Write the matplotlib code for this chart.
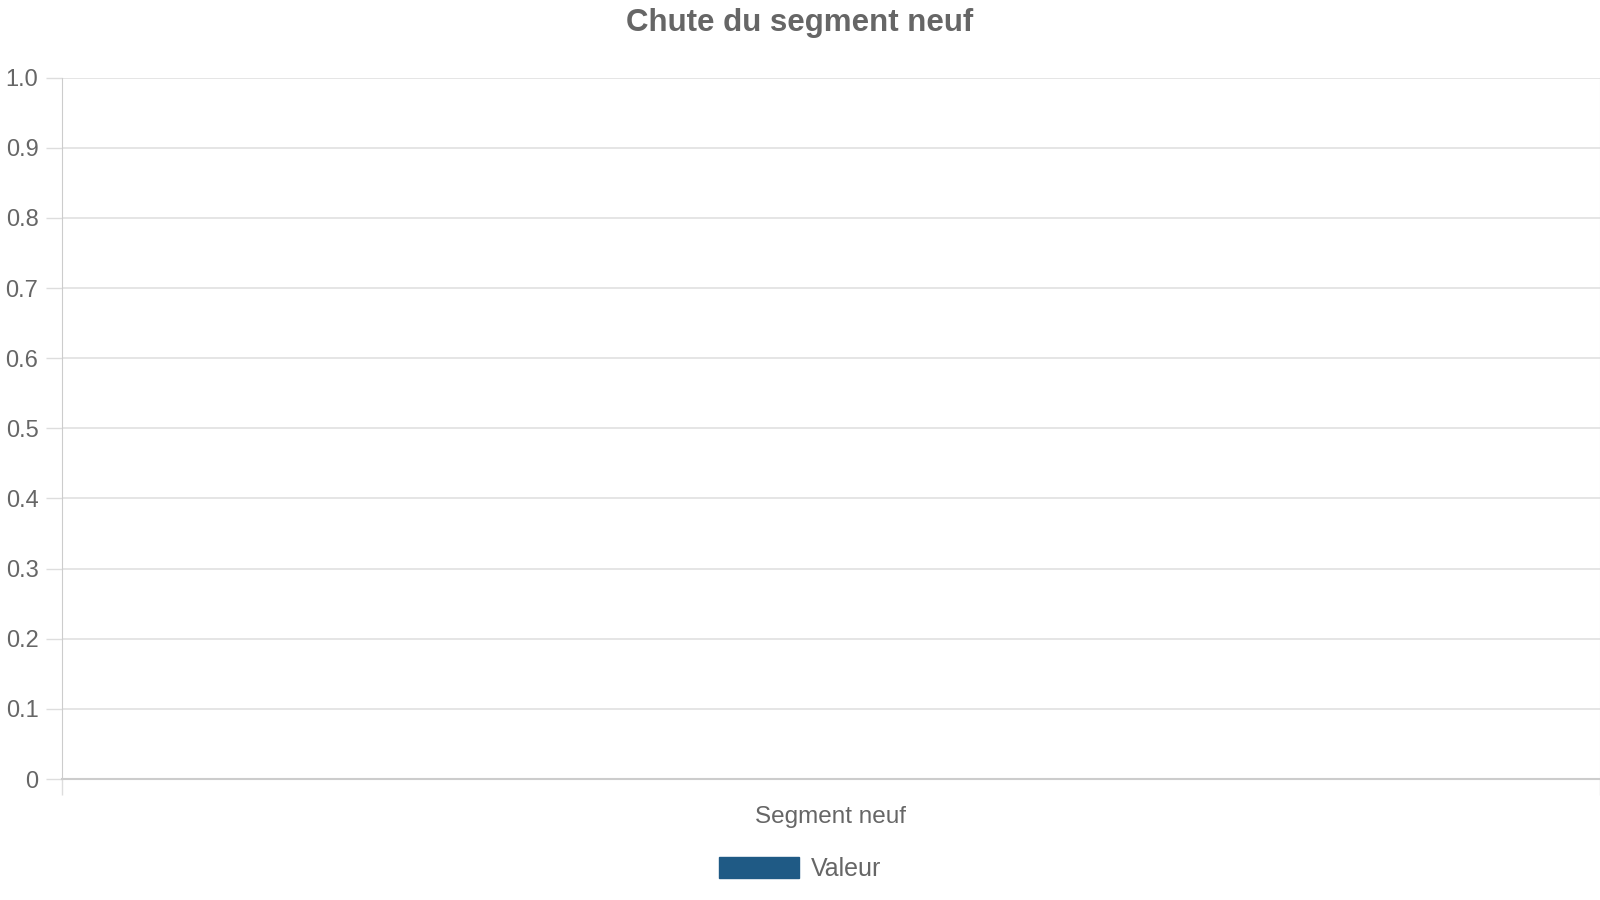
import matplotlib.pyplot as plt
from matplotlib.patches import Patch

# données
categories = ['Segment neuf']
valeurs = [0]
serie = 'Valeur'
titre = 'Chute du segment neuf'
y_ticks = [0, 0.1, 0.2, 0.3, 0.4, 0.5, 0.6, 0.7, 0.8, 0.9, 1.0]
y_labels = ['0', '0.1', '0.2', '0.3', '0.4', '0.5', '0.6', '0.7', '0.8', '0.9', '1.0']

plt.rcParams['font.family'] = ['Liberation Sans', 'DejaVu Sans']
gris = '#666666'
couleur = '#1f5a85'

fig = plt.figure(figsize=(16, 9), dpi=100)
ax = fig.add_axes([0.03875, 0.1344, 0.961, 0.7794])

x = list(range(len(categories)))
ax.bar(x, valeurs, width=0.6, color=couleur, label=serie, zorder=3)
ax.set_xlim(-0.5, len(categories) - 0.5)
ax.set_ylim(0, 1.0)

ax.set_yticks(y_ticks)
ax.set_yticklabels(y_labels)
ax.yaxis.grid(True, color='#e0e0e0', linewidth=1.2, zorder=0)
ax.tick_params(axis='y', colors='#dddddd', labelcolor=gris, labelsize=17,
               length=11.5, width=1, pad=5.5)

# graduations des catégories sur les bords
ax.set_xticks([-0.5 + i for i in range(len(categories) + 1)], minor=False)
ax.set_xticklabels([''] * (len(categories) + 1))
ax.set_xticks(x, minor=True)
ax.set_xticklabels(categories, minor=True)
ax.tick_params(axis='x', which='major', colors='#dddddd', length=11.5, width=1)
ax.tick_params(axis='x', which='minor', length=0, labelcolor=gris,
               labelsize=17.5, pad=19.5)

ax.spines['top'].set_visible(False)
ax.spines['right'].set_color('#e0e0e0')
ax.spines['left'].set_color('#cccccc')
ax.spines['bottom'].set_color('#cccccc')
ax.spines['bottom'].set_linewidth(1.5)
ax.spines['bottom'].set_zorder(4)

fig.text(0.5, 1 - 31 / 900, titre, ha='center', va='baseline',
         fontsize=22.5, fontweight='bold', color=gris)

fig.legend(handles=[Patch(color=couleur, label=serie)], loc='center',
           bbox_to_anchor=(0.5, 0.0345), frameon=False, fontsize=18,
           labelcolor=gris, handlelength=3.2, handleheight=0.96,
           handletextpad=0.5)

fig.savefig('out.png', dpi=100)
